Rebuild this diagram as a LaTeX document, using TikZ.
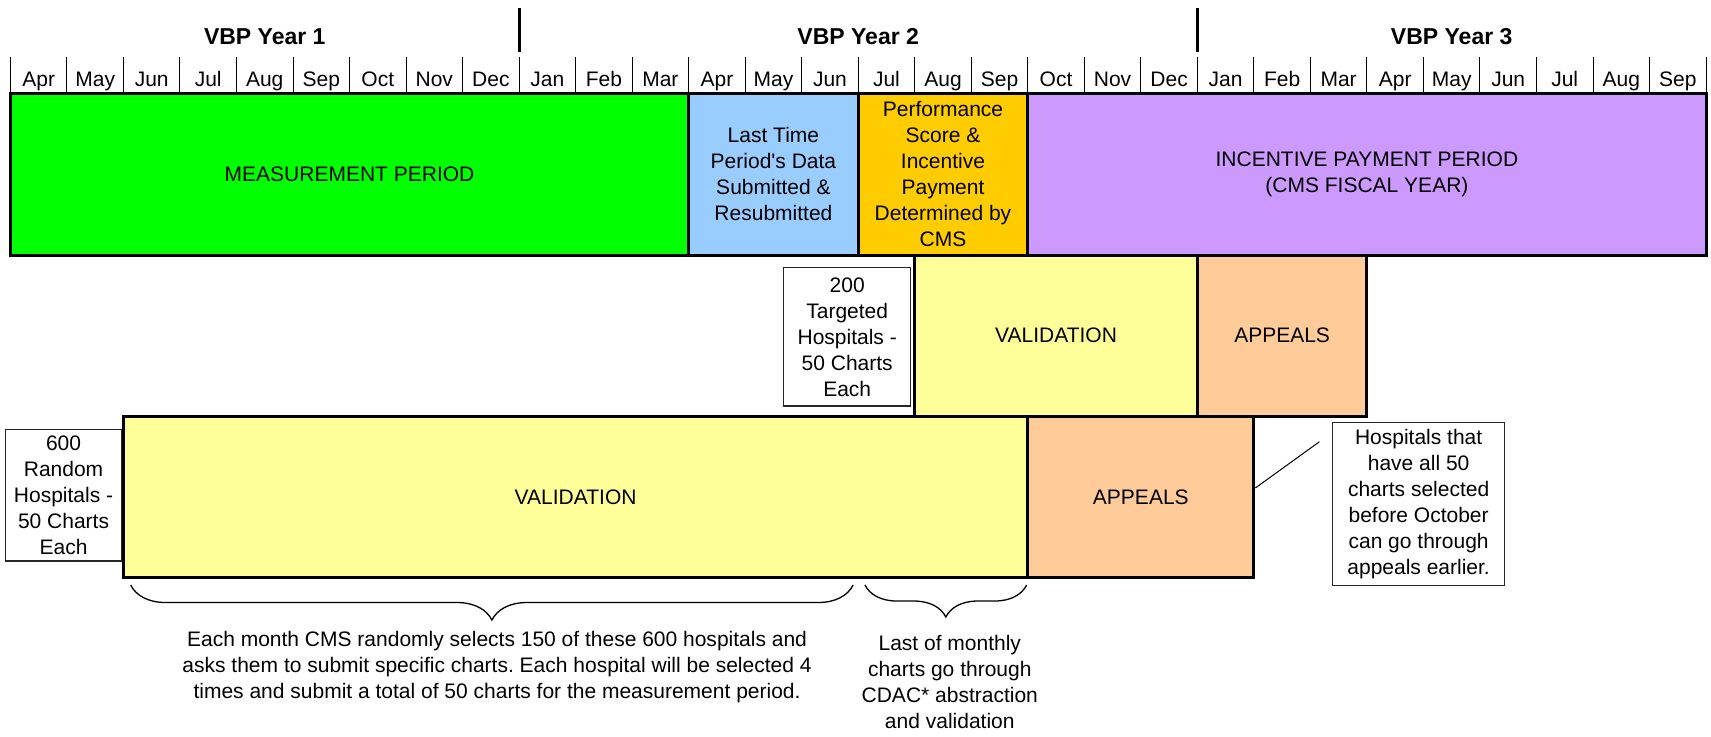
\documentclass[tikz,border=0pt]{standalone}
\usepackage{fontspec}
\setmainfont{Liberation Sans}
\frenchspacing
\usetikzlibrary{decorations.pathreplacing}
\definecolor{measure}{HTML}{00FF00}
\definecolor{resub}{HTML}{99CCFF}
\definecolor{score}{HTML}{FFCC00}
\definecolor{payment}{HTML}{CC99FF}
\definecolor{valid}{HTML}{FFFF99}
\definecolor{appeal}{HTML}{FFCC99}
\tikzset{
  period/.style={draw,line width=1.5pt,inner sep=0pt,align=center},
  remark/.style={draw=black!85,line width=0.6pt,inner sep=0pt,align=center},
  cell/.style 2 args={minimum width=#1*28.26pt,minimum height=#2*0.5pt},
  curly/.style={decorate,decoration={brace,mirror,amplitude=#1},line width=0.65pt}
}
\begin{document}
\begin{tikzpicture}[x=28.26pt,y=-0.5pt,font={\fontsize{10.5}{13}\selectfont}]
\useasboundingbox (-0.184,0) rectangle (30.088,736);
\foreach \yr/\xc in {1/4.5,2/15,3/25.5}
  \node[font={\fontsize{11.5}{13}\selectfont\bfseries}] (year\yr) at (\xc,37) {VBP Year \yr};
\draw[line width=1.5pt] (9,8) -- (9,52) (21,8) -- (21,52);
\foreach \tick in {0,...,30}
  \draw[line width=0.5pt] (\tick,57) -- (\tick,93);
\foreach \mon [count=\i from 0] in {Apr,May,Jun,Jul,Aug,Sep,Oct,Nov,Dec,Jan,Feb,Mar,Apr,May,Jun,Jul,Aug,Sep,Oct,Nov,Dec,Jan,Feb,Mar,Apr,May,Jun,Jul,Aug,Sep}
  \node[anchor=base] (m\i) at (\i+0.5,86) {\mon};
% top row
\node[period,fill=measure,cell={12}{162}] (meas) at (6,174) {MEASUREMENT PERIOD};
\node[period,fill=resub,cell={3}{162}] (resub) at (13.5,174) {Last Time\\Period\textquotesingle s Data\\Submitted \&\\Resubmitted};
\node[period,fill=score,cell={3}{162}] (score) at (16.5,174) {Performance\\Score \&\\Incentive\\Payment\\Determined by\\CMS};
\node[period,fill=payment,cell={12}{162}] (pay) at (24,174) {INCENTIVE PAYMENT PERIOD\\(CMS FISCAL YEAR)};
% targeted hospitals
\node[period,fill=valid,cell={5}{161.5}] (valT) at (18.5,335.75) {VALIDATION};
\node[period,fill=appeal,cell={3}{161.5}] (appT) at (22.5,335.75) {APPEALS};
\node[remark,cell={2.25}{138.3}] (target) at (14.805,336.85) {200\\Targeted\\Hospitals -\\50 Charts\\Each};
% random hospitals
\node[period,fill=valid,cell={16}{160.5}] (valR) at (10,496.75) {VALIDATION};
\node[period,fill=appeal,cell={4}{160.5}] (appR) at (20,496.75) {APPEALS};
\node[remark,cell={2.045}{131.7}] (random) at (0.94,495.15) {600\\Random\\Hospitals -\\50 Charts\\Each};
\node[remark,cell={3.05}{163}] (early) at (24.915,504.2) {Hospitals that\\have all 50\\charts selected\\before October\\can go through\\appeals earlier.};
\coordinate (callout) at (23.16,441.7);
\draw[line width=0.5pt] ([yshift=4.4pt]appR.east) -- (callout);
% braces
\coordinate (b1s) at (2.128,585);
\coordinate (b1e) at (14.91,585);
\coordinate (b2s) at (15.12,585);
\coordinate (b2e) at (17.98,585);
\draw[curly=17.5pt] (b1s) -- (b1e);
\draw[curly=16pt] (b2s) -- (b2e);
\node[align=center] (monthly) at (8.61,667.5) {Each month CMS randomly selects 150 of these 600 hospitals and\\asks them to submit specific charts. Each hospital will be selected 4\\times and submit a total of 50 charts for the measurement period.};
\node[align=center] (last) at (16.62,682) {Last of monthly\\charts go through\\CDAC* abstraction\\and validation};
\end{tikzpicture}
\end{document}
